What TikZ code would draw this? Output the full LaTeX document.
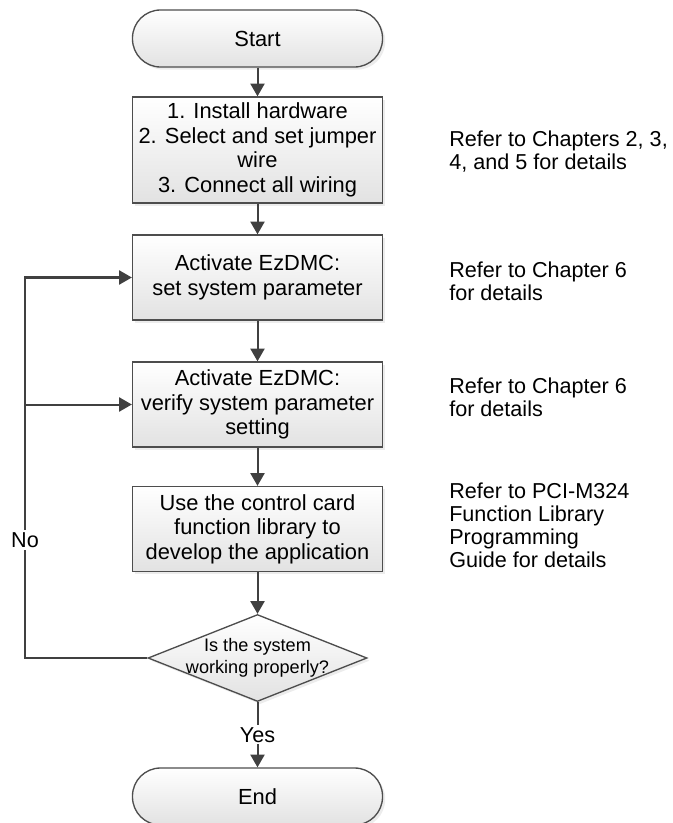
\documentclass[tikz,border=0pt]{standalone}
\usepackage{fontspec}
\setmainfont{Liberation Sans}
\usepackage{tikz}
\usetikzlibrary{arrows.meta, positioning, shapes.geometric, shadows}
\definecolor{EdgeGray}{RGB}{77,77,77}
\definecolor{FlowGray}{RGB}{64,64,64}
\definecolor{FillGray}{RGB}{226,226,226}

\begin{document}
\begin{tikzpicture}[x=0.75pt, y=-0.75pt, >={Triangle[length=9.5pt,width=10.5pt]},
    proc/.style={rectangle, draw=EdgeGray, line width=1pt, top color=white, bottom color=FillGray,
        minimum width=187.5pt, minimum height=63.75pt, inner sep=2pt, align=center,
        font=\fontsize{16.4}{18.4}\selectfont,
        drop shadow={shadow xshift=2pt, shadow yshift=-2pt, fill=black!15}},
    term/.style={proc, rounded corners=21pt, minimum height=42.75pt},
    decision/.style={diamond, draw=EdgeGray, line width=1pt, top color=white, bottom color=FillGray,
        minimum width=164.25pt, minimum height=65.25pt, inner sep=0pt,
        drop shadow={shadow xshift=2pt, shadow yshift=-2pt, fill=black!15}},
    note/.style={anchor=west, align=left, inner sep=0pt, font=\fontsize{16.2}{17.2}\selectfont},
    flow/.style={->, draw=FlowGray, line width=1.5pt},
    tag/.style={fill=white, inner sep=1.5pt, font=\fontsize{16.2}{18}\selectfont}]

    \useasboundingbox (0,0) rectangle (672,823);

    % Flow chart steps
    \node[term] (start) at (257.5,38.5) {Start};
    \node[proc, minimum height=79.5pt] (hw) at (257.5,150) {1. Install hardware\\2. Select and set jumper\\wire\\3. Connect all wiring};
    \node[proc] (setp) at (257.5,277.5) {Activate EzDMC:\\set system parameter};
    \node[proc] (verp) at (257.5,404.5) {Activate EzDMC:\\verify system parameter\\setting};
    \node[proc] (app) at (257.5,529) {Use the control card\\function library to\\develop the application};
    \node[decision] (ok) at (257.5,658) {};
    \node[align=center, font=\fontsize{13.6}{16.5}\selectfont] (oktext) at (ok.center) {Is the system\\working properly?};
    \node[term] (end) at (257.5,796.5) {End};

    % Notes on the right
    \node[note] (n1) at (449,152) {Refer to Chapters 2, 3,\\4, and 5 for details};
    \node[note] (n2) at (449,281) {Refer to Chapter 6\\for details};
    \node[note] (n3) at (449,397) {Refer to Chapter 6\\for details};
    \node[note] (n4) at (449,525) {Refer to PCI-M324\\Function Library\\Programming\\Guide for details};

    % Arrows
    \draw[flow] (start) -- (hw);
    \draw[flow] (hw) -- (setp);
    \draw[flow] (setp) -- (verp);
    \draw[flow] (verp) -- (app);
    \draw[flow] (app.south) -- (ok.north);
    \draw[flow] (ok.south) -- node[tag] (yes) {Yes} (end.north);

    % Loop back
    \coordinate (loop) at (25,0);
    \draw[flow] (ok.west) -- (ok.west -| loop) -- (setp.west -| loop) -- (setp.west);
    \draw[flow] (verp.west -| loop) -- (verp.west);
    \node[tag] (no) at (25,540) {No};
\end{tikzpicture}
\end{document}
